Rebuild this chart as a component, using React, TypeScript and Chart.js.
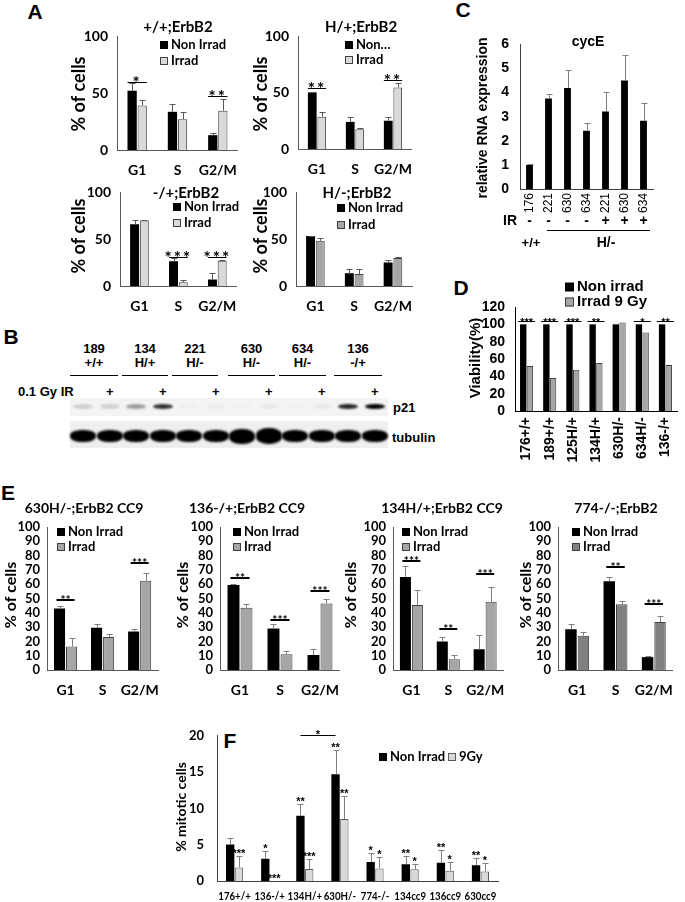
import React, { useEffect, useRef } from 'react';
import { Chart, registerables } from 'chart.js';

Chart.register(...registerables);

const LATO = 'Lato, "Liberation Sans", sans-serif';
const ARIAL = '"Liberation Sans", Arial, sans-serif';

// ---------------- data ----------------
const PHASES = ['G1', 'S', 'G2/M'];

// A
const A1_TITLE = '+/+;ErbB2';
const A1_NON = [52, 33.5, 13];
const A1_NON_ERR = [7, 7, 1.5];
const A1_IRR = [39, 27, 34.5];
const A1_IRR_ERR = [5, 6, 10.5];
const A1_SIG = ['*', '', '**'];
const A1_SIG_AT = [60, 0, 47];

const A2_TITLE = 'H/+;ErbB2';
const A2_NON = [50, 24, 25];
const A2_NON_ERR = [0.5, 4, 3];
const A2_IRR = [28.5, 17.5, 54.5];
const A2_IRR_ERR = [4.5, 1, 3.5];
const A2_SIG = ['**', '', '**'];
const A2_SIG_AT = [54, 0, 61];

const A3_TITLE = '-/+;ErbB2';
const A3_NON = [66, 26.5, 7];
const A3_NON_ERR = [4.5, 3, 7];
const A3_IRR = [70, 4, 27];
const A3_IRR_ERR = [1, 2, 1];
const A3_SIG = ['', '***', '***'];
const A3_SIG_AT = [0, 31, 31];

const A4_TITLE = 'H/-;ErbB2';
const A4_NON = [53.5, 13.7, 25];
const A4_NON_ERR = [0.4, 4.6, 2.7];
const A4_IRR = [48.3, 12.7, 30];
const A4_IRR_ERR = [3.3, 5, 0.7];

// B (western blot)
const BLOT_CLONE = ['189', '134', '221', '630', '634', '136'];
const BLOT_GENO = ['+/+', 'H/+', 'H/-', 'H/-', 'H/-', '-/+'];
const BLOT_IR = ['', '+', '', '+', '', '+', '', '+', '', '+', '', '+'];
const P21_LEVEL = [0.15, 0.14, 0.35, 0.8, 0.02, 0.03, 0.02, 0.04, 0.02, 0.04, 0.85, 1];
const TUB_LEVEL = [1, 1, 1, 1, 1, 1, 1.25, 1.35, 0.95, 0.95, 0.95, 0.95];

// C
const C_LABELS = ['176', '221', '630', '634', '221', '630', '634'];
const C_IR = ['-', '-', '-', '-', '+', '+', '+'];
const C_VAL = [1.0, 3.76, 4.19, 2.42, 3.22, 4.5, 2.83];
const C_ERR = [0.03, 0.19, 0.76, 0.3, 0.8, 1.05, 0.75];

// D
const D_LABELS = ['176+/+', '189+/+', '125H/+', '134H/+', '630H/-', '634H/-', '136-/+'];
const D_NON = [100, 100, 100, 100, 100, 100, 100];
const D_IRR = [52, 38, 47.5, 55.5, 102, 90.5, 53];
const D_SIG = ['***', '***', '***', '**', '', '*', '**'];
const D_SIG_AT = [104, 104, 104, 104, 104, 104, 104];

// E
const E1_TITLE = '630H/-;ErbB2 CC9';
const E1_NON = [43, 29.5, 27];
const E1_NON_ERR = [2, 2.5, 2];
const E1_IRR = [16.5, 23, 62.5];
const E1_IRR_ERR = [6, 2.5, 5.5];
const E1_SIG = ['**', '', '***'];
const E1_SIG_AT = [49, 0, 75];

const E2_TITLE = '136-/+;ErbB2 CC9';
const E2_NON = [59.5, 29, 10.5];
const E2_NON_ERR = [0.5, 3, 4];
const E2_IRR = [43.5, 11, 46.5];
const E2_IRR_ERR = [3, 2.5, 3.5];
const E2_SIG = ['**', '***', '***'];
const E2_SIG_AT = [64, 35, 55];

const E3_TITLE = '134H/+;ErbB2 CC9';
const E3_NON = [65, 20, 14.5];
const E3_NON_ERR = [7.5, 3, 10];
const E3_IRR = [45.5, 7.5, 47.7];
const E3_IRR_ERR = [10.5, 3, 10.5];
const E3_SIG = ['***', '**', '***'];
const E3_SIG_AT = [76, 28.5, 67];

const E4_TITLE = '774-/-;ErbB2';
const E4_NON = [28.5, 62, 9];
const E4_NON_ERR = [3.5, 3, 0.8];
const E4_IRR = [24, 46, 33.5];
const E4_IRR_ERR = [2.5, 2.5, 4];
const E4_SIG = ['', '**', '***'];
const E4_SIG_AT = [0, 72, 46];

// F
const F_LABELS = ['176+/+', '136-/+', '134H/+', '630H/-', '774-/-', '134cc9', '136cc9', '630cc9'];
const F_NON = [5.05, 3.08, 9.0, 14.7, 2.64, 2.33, 2.55, 2.2];
const F_NON_ERR = [0.95, 1.05, 1.6, 3.3, 1.2, 1.2, 1.75, 1.05];
const F_IRR = [1.9, 0, 1.67, 8.57, 1.76, 1.63, 1.45, 1.32];
const F_IRR_ERR = [1.5, 0, 1.4, 3.2, 1.6, 0.8, 1.25, 1.2];
const F_NON_STARS = ['', '*', '**', '**', '*', '**', '**', '**'];
const F_IRR_STARS = ['***', '***', '***', '**', '*', '*', '*', '*'];
const F_BRIDGE = { from: 2, to: 3, at: 20.1, text: '*' };

// ---------------- drawing helpers ----------------
function drawText(ctx, t, ox, oy) {
  ctx.save();
  ctx.font = t.font;
  ctx.fillStyle = t.color || '#000';
  ctx.textAlign = t.align || 'center';
  ctx.textBaseline = t.base || 'middle';
  ctx.translate(t.x - ox, t.y - oy);
  if (t.rot) ctx.rotate((t.rot * Math.PI) / 180);
  ctx.fillText(t.text, 0, 0);
  ctx.restore();
}

function decor(spec) {
  const [bl, bt] = spec.box;
  return {
    id: 'decor',
    afterDatasetsDraw(chart) {
      const ctx = chart.ctx;
      const ys = chart.scales.y;
      ctx.save();
      spec.datasets.forEach((d, di) => {
        if (!d.err) return;
        const meta = chart.getDatasetMeta(di);
        meta.data.forEach((el, i) => {
          const e = d.err[i];
          if (!e) return;
          const x = Math.round(el.x) + 0.5;
          const y0 = ys.getPixelForValue(d.data[i]);
          const y1 = Math.round(ys.getPixelForValue(d.data[i] + e)) + 0.5;
          ctx.strokeStyle = spec.errColor;
          ctx.lineWidth = 1;
          ctx.beginPath();
          ctx.moveTo(x, y0);
          ctx.lineTo(x, y1);
          ctx.moveTo(x - spec.capW, y1);
          ctx.lineTo(x + spec.capW, y1);
          ctx.stroke();
        });
      });
      ctx.restore();
    },
    afterDraw(chart) {
      const ctx = chart.ctx;
      const ys = chart.scales.y;
      const xs = chart.scales.x;
      (spec.texts || []).forEach((t) => drawText(ctx, t, bl, bt));
      if (spec.rotLabels) {
        const R = spec.rotLabels;
        spec.labels.forEach((lab, i) => {
          ctx.save();
          ctx.font = R.font;
          ctx.fillStyle = '#000';
          ctx.textAlign = 'right';
          ctx.textBaseline = 'middle';
          ctx.translate(xs.getPixelForValue(i) + (R.dx || 0), chart.chartArea.bottom + R.pad);
          ctx.rotate(-Math.PI / 2);
          ctx.fillText(lab, 0, 0);
          ctx.restore();
        });
      }
      if (spec.squeezeLabels) {
        const Q = spec.squeezeLabels;
        spec.labels.forEach((lab, i) => {
          ctx.save();
          ctx.font = Q.font;
          ctx.fillStyle = '#000';
          ctx.textAlign = 'center';
          ctx.textBaseline = 'middle';
          ctx.translate(xs.getPixelForValue(i), chart.chartArea.bottom + Q.dy);
          ctx.scale(Q.sx, 1);
          ctx.fillText(lab, 0, 0);
          ctx.restore();
        });
      }
      if (spec.legend) {
        const L = spec.legend;
        L.items.forEach((it) => {
          const sx = it.x - bl;
          const sy = it.y - bt - L.size / 2;
          ctx.fillStyle = it.color;
          ctx.fillRect(sx, sy, L.size, L.size);
          if (it.border) {
            ctx.strokeStyle = it.border;
            ctx.lineWidth = 1;
            ctx.strokeRect(sx + 0.5, sy + 0.5, L.size - 1, L.size - 1);
          }
          drawText(ctx, { x: it.x + L.size + 3, y: it.y, text: it.text, font: L.font, align: 'left' }, bl, bt);
        });
      }
      if (spec.sig) {
        const S = spec.sig;
        const m0 = chart.getDatasetMeta(0);
        const m1 = chart.getDatasetMeta(1);
        S.texts.forEach((txt, i) => {
          if (!txt) return;
          const e0 = m0.data[i];
          const e1 = m1.data[i];
          let x0, x1;
          if (S.mode === 'full') {
            x0 = e0.x - e0.width / 2 - S.ext;
            x1 = e1.x + e1.width / 2 + S.ext;
          } else {
            x0 = e0.x - S.ext;
            x1 = e1.x + S.ext;
          }
          const y = Math.round(ys.getPixelForValue(S.at[i])) + (S.lineW === 1 ? 0.5 : 0);
          ctx.save();
          ctx.strokeStyle = '#000';
          ctx.lineWidth = S.lineW;
          ctx.beginPath();
          ctx.moveTo(x0, y);
          ctx.lineTo(x1, y);
          ctx.stroke();
          ctx.font = S.font;
          ctx.fillStyle = '#000';
          ctx.textAlign = 'center';
          ctx.textBaseline = 'alphabetic';
          if (S.spacing) ctx.letterSpacing = S.spacing;
          ctx.fillText(txt, (x0 + x1) / 2, y + S.dy);
          ctx.restore();
        });
      }
      (spec.stars || []).forEach((st) => {
        const meta = chart.getDatasetMeta(st.ds);
        const d = spec.datasets[st.ds];
        st.texts.forEach((txt, i) => {
          if (!txt) return;
          const el = meta.data[i];
          const top = ys.getPixelForValue(d.data[i] + ((d.err && d.err[i]) || 0));
          ctx.save();
          ctx.font = st.font;
          ctx.fillStyle = '#000';
          ctx.textAlign = 'center';
          ctx.textBaseline = 'alphabetic';
          ctx.fillText(txt, el.x, top + st.dy);
          ctx.restore();
        });
      });
      if (spec.bridge) {
        const B = spec.bridge;
        const meta = chart.getDatasetMeta(0);
        const x0 = meta.data[B.from].x;
        const x1 = meta.data[B.to].x;
        const y = Math.round(ys.getPixelForValue(B.at)) + 0.5;
        ctx.save();
        ctx.strokeStyle = '#000';
        ctx.lineWidth = 1;
        ctx.beginPath();
        ctx.moveTo(x0, y);
        ctx.lineTo(x1, y);
        ctx.stroke();
        ctx.font = B.font;
        ctx.fillStyle = '#000';
        ctx.textAlign = 'center';
        ctx.textBaseline = 'alphabetic';
        ctx.fillText(B.text, (x0 + x1) / 2, y + B.dy);
        ctx.restore();
      }
      (spec.catRows || []).forEach((row) => {
        row.texts.forEach((txt, i) => {
          drawText(ctx, { x: xs.getPixelForValue(i) + bl, y: row.y, text: txt, font: row.font }, bl, bt);
        });
      });
      (spec.hlines || []).forEach((h) => {
        ctx.save();
        ctx.strokeStyle = '#000';
        ctx.lineWidth = 1;
        ctx.beginPath();
        ctx.moveTo(h.x0 - bl, h.y - bt + 0.5);
        ctx.lineTo(h.x1 - bl, h.y - bt + 0.5);
        ctx.stroke();
        ctx.restore();
      });
    },
  };
}

function build(canvas, spec) {
  const [bl, bt, bw, bh] = spec.box;
  const [pl, pt, pr, pb] = spec.plot;
  return new Chart(canvas, {
    type: 'bar',
    data: {
      labels: spec.labels,
      datasets: spec.datasets.map((d) => ({
        label: d.label,
        data: d.data,
        backgroundColor: d.color,
        borderColor: d.border || d.color,
        borderWidth: d.border ? 1 : 0,
        categoryPercentage: spec.cat,
        barPercentage: spec.bar,
      })),
    },
    options: {
      responsive: false,
      animation: false,
      events: [],
      layout: { autoPadding: false, padding: { left: 0, top: pt - bt, right: bl + bw - pr, bottom: 0 } },
      plugins: { legend: { display: false }, tooltip: { enabled: false }, title: { display: false } },
      scales: {
        x: {
          grid: { display: false, drawTicks: false },
          border: { display: true, color: spec.axis, width: 1 },
          ticks: {
            display: !spec.rotLabels && !spec.squeezeLabels,
            font: spec.xFont,
            color: '#000',
            padding: spec.xPad,
            autoSkip: false,
            maxRotation: 0,
            minRotation: 0,
          },
          afterFit: (s) => {
            s.height = bt + bh - pb;
          },
        },
        y: {
          min: 0,
          max: spec.yMax,
          grid: { display: false, drawTicks: false },
          border: { display: true, color: spec.axis, width: 1 },
          ticks: { stepSize: spec.yStep, autoSkip: false, font: spec.yFont, color: '#000', padding: spec.yPad },
          afterFit: (s) => {
            s.width = pl - bl;
          },
        },
      },
    },
    plugins: [decor(spec)],
  });
}

function ChartBox({ spec }) {
  const ref = useRef(null);
  useEffect(() => {
    const c = build(ref.current, spec);
    return () => c.destroy();
  }, []);
  const [l, t, w, h] = spec.box;
  return (
    <canvas
      ref={ref}
      width={w}
      height={h}
      style={{ position: 'absolute', left: l, top: t, width: w, height: h }}
    />
  );
}

// ---------------- specs ----------------
const fL = (s, w = 'bold') => ({ family: LATO, size: s, weight: w });
const fA = (s, w = 'bold') => ({ family: ARIAL, size: s, weight: w });

function aSpec(box, plot, title, titleXY, ytXY, legX, legY, non, nonErr, irr, irrErr, irrColor, nonLabel, sig, sigAt) {
  return {
    box,
    plot,
    labels: PHASES,
    datasets: [
      { label: 'Non Irrad', data: non, err: nonErr, color: '#000' },
      { label: 'Irrad', data: irr, err: irrErr, color: irrColor, border: '#404040' },
    ],
    yMax: 100,
    yStep: 50,
    yFont: fL(14),
    yPad: 9,
    xFont: fL(14),
    xPad: 12,
    cat: 0.5,
    bar: 0.92,
    axis: '#595959',
    errColor: '#595959',
    capW: 3,
    texts: [
      { x: titleXY[0], y: titleXY[1], text: title, font: `bold 15px ${LATO}` },
      { x: ytXY[0], y: ytXY[1], text: '% of cells', font: `bold 18px ${LATO}`, rot: -90 },
    ],
    legend: {
      font: `bold 13px ${LATO}`,
      size: 8,
      items: [
        { x: legX, y: legY[0], color: '#000', text: nonLabel },
        { x: legX, y: legY[1], color: irrColor, border: '#404040', text: 'Irrad' },
      ],
    },
    sig: sig
      ? { texts: sig, at: sigAt, font: `bold 17px ${LATO}`, mode: 'full', ext: 0, lineW: 1, dy: 6, spacing: '2px' }
      : null,
  };
}

const A1 = aSpec([60, 12, 190, 172], [117, 36, 243, 150], A1_TITLE, [178, 27], [79, 94], 160, [45, 61],
  A1_NON, A1_NON_ERR, A1_IRR, A1_IRR_ERR, '#d9d9d9', 'Non Irrad', A1_SIG, A1_SIG_AT);
const A2 = aSpec([245, 12, 180, 172], [298, 36, 419, 149], A2_TITLE, [361, 27], [261, 94], 345, [45, 60],
  A2_NON, A2_NON_ERR, A2_IRR, A2_IRR_ERR, '#d9d9d9', 'Non…', A2_SIG, A2_SIG_AT);
const A3 = aSpec([60, 175, 190, 145], [120, 185, 240, 286], A3_TITLE, [186, 193], [79, 236], 173, [207, 223],
  A3_NON, A3_NON_ERR, A3_IRR, A3_IRR_ERR, '#d9d9d9', 'Non Irrad', A3_SIG, A3_SIG_AT);
const A4 = aSpec([245, 175, 180, 145], [296, 185, 419, 286], A4_TITLE, [357, 193], [261, 236], 337, [208, 225],
  A4_NON, A4_NON_ERR, A4_IRR, A4_IRR_ERR, '#a6a6a6', 'Non Irrad', null, null);

const C = {
  box: [465, 25, 200, 230],
  plot: [520, 35, 653, 189],
  labels: C_LABELS,
  datasets: [{ label: 'cycE', data: C_VAL, err: C_ERR, color: '#000' }],
  yMax: 6,
  yStep: 1,
  yFont: fA(14),
  yPad: 11,
  xFont: fA(12, 'normal'),
  xPad: 4,
  rotLabels: { font: `12px ${ARIAL}`, pad: 4, dx: 0 },
  cat: 0.36,
  bar: 1,
  axis: '#404040',
  errColor: '#7f7f7f',
  capW: 3,
  texts: [
    { x: 588, y: 42, text: 'cycE', font: `bold 14px ${ARIAL}` },
    { x: 483, y: 118, text: 'relative RNA expression', font: `bold 14px ${ARIAL}`, rot: -90 },
    { x: 510, y: 221, text: 'IR', font: `bold 14px ${ARIAL}` },
    { x: 531, y: 243, text: '+/+', font: `bold 13px ${ARIAL}` },
    { x: 606, y: 243, text: 'H/-', font: `bold 14px ${ARIAL}` },
  ],
  catRows: [{ y: 221, texts: C_IR, font: `bold 14px ${ARIAL}` }],
  hlines: [{ x0: 547, x1: 650, y: 230 }],
};

const D = {
  box: [440, 275, 245, 195],
  plot: [515, 307, 677, 411],
  labels: D_LABELS,
  datasets: [
    { label: 'Non irrad', data: D_NON, color: '#000' },
    { label: 'Irrad 9 Gy', data: D_IRR, color: '#a6a6a6', border: '#404040' },
  ],
  yMax: 120,
  yStep: 20,
  yFont: fA(14),
  yPad: 10,
  xFont: fA(14),
  xPad: 6,
  rotLabels: { font: `bold 14px ${ARIAL}`, pad: 6, dx: 0 },
  cat: 0.58,
  bar: 0.95,
  axis: '#000',
  errColor: '#000',
  capW: 2,
  texts: [{ x: 476, y: 358, text: 'Viability(%)', font: `bold 15px ${ARIAL}`, rot: -90 }],
  legend: {
    font: `bold 15px ${ARIAL}`,
    size: 9,
    items: [
      { x: 565, y: 287, color: '#000', text: 'Non irrad' },
      { x: 565, y: 302, color: '#a6a6a6', border: '#404040', text: 'Irrad 9 Gy' },
    ],
  },
  sig: { texts: D_SIG, at: D_SIG_AT, font: `bold 11px ${ARIAL}`, mode: 'full', ext: 2, lineW: 1, dy: 4 },
};

function eSpec(box, plot, title, titleX, ytX, legX, non, nonErr, irr, irrErr, irrColor, sig, sigAt) {
  return {
    box,
    plot,
    labels: PHASES,
    datasets: [
      { label: 'Non Irrad', data: non, err: nonErr, color: '#000' },
      { label: 'Irrad', data: irr, err: irrErr, color: irrColor, border: '#404040' },
    ],
    yMax: 100,
    yStep: 10,
    yFont: fL(13),
    yPad: 7,
    xFont: fL(14),
    xPad: 12,
    cat: 0.65,
    bar: 0.92,
    axis: '#595959',
    errColor: '#7f7f7f',
    capW: 3,
    texts: [
      { x: titleX, y: 508, text: title, font: `bold 14px ${LATO}` },
      { x: ytX, y: 595, text: '% of cells', font: `bold 16px ${LATO}`, rot: -90 },
    ],
    legend: {
      font: `bold 13px ${LATO}`,
      size: 8,
      items: [
        { x: legX, y: 532, color: '#000', text: 'Non Irrad' },
        { x: legX, y: 547, color: irrColor, border: '#404040', text: 'Irrad' },
      ],
    },
    sig: { texts: sig, at: sigAt, font: `bold 12px ${LATO}`, mode: 'centers', ext: 3, lineW: 2, dy: 4 },
  };
}

const E1 = eSpec([0, 495, 172, 210], [47, 527, 164, 670], E1_TITLE, 84, 11, 57,
  E1_NON, E1_NON_ERR, E1_IRR, E1_IRR_ERR, '#a6a6a6', E1_SIG, E1_SIG_AT);
const E2 = eSpec([172, 495, 180, 210], [220, 527, 346, 670], E2_TITLE, 247, 183, 233,
  E2_NON, E2_NON_ERR, E2_IRR, E2_IRR_ERR, '#a6a6a6', E2_SIG, E2_SIG_AT);
const E3 = eSpec([345, 495, 172, 210], [393, 527, 512, 670], E3_TITLE, 442, 351, 402,
  E3_NON, E3_NON_ERR, E3_IRR, E3_IRR_ERR, '#a6a6a6', E3_SIG, E3_SIG_AT);
const E4 = eSpec([512, 495, 173, 210], [558, 527, 684, 670], E4_TITLE, 616, 526, 572,
  E4_NON, E4_NON_ERR, E4_IRR, E4_IRR_ERR, '#808080', E4_SIG, E4_SIG_AT);

const F = {
  box: [165, 715, 340, 187],
  plot: [217, 732, 498, 883],
  labels: F_LABELS,
  datasets: [
    { label: 'Non Irrad', data: F_NON, err: F_NON_ERR, color: '#000' },
    { label: '9Gy', data: F_IRR, err: F_IRR_ERR, color: '#d9d9d9', border: '#595959' },
  ],
  yMax: 20,
  yStep: 5,
  yFont: fL(13),
  yPad: 13,
  xFont: fL(11),
  xPad: 9,
  squeezeLabels: { font: `bold 11px ${LATO}`, dy: 15, sx: 0.88 },
  cat: 0.5,
  bar: 0.95,
  axis: '#404040',
  errColor: '#7f7f7f',
  capW: 3,
  texts: [{ x: 181, y: 807, text: '% mitotic cells', font: `bold 14px ${LATO}`, rot: -90 }],
  legend: {
    font: `bold 13px ${LATO}`,
    size: 8,
    items: [
      { x: 379, y: 757, color: '#000', text: 'Non Irrad' },
      { x: 448, y: 757, color: '#d9d9d9', border: '#595959', text: '9Gy' },
    ],
  },
  stars: [
    { ds: 0, texts: F_NON_STARS, font: `bold 11px ${ARIAL}`, dy: 1 },
    { ds: 1, texts: F_IRR_STARS, font: `bold 11px ${ARIAL}`, dy: 1 },
  ],
  bridge: { ...F_BRIDGE, font: `bold 11px ${ARIAL}`, dy: 2 },
};

// ---------------- HTML pieces ----------------
function Txt({ x, y, children, font, align = 'center' }) {
  const tx = align === 'center' ? '-50%' : align === 'right' ? '-100%' : '0';
  return (
    <div
      style={{
        position: 'absolute',
        left: x,
        top: y,
        transform: `translate(${tx}, -50%)`,
        font,
        whiteSpace: 'nowrap',
        lineHeight: 1,
        color: '#000',
      }}
    >
      {children}
    </div>
  );
}

const LANE_X0 = 70;
const LANE_W = 26.5;
const GROUP_SPANS = [
  [70, 118],
  [122, 168],
  [172, 218],
  [228, 275],
  [279, 326],
  [334, 382],
];

function Blot() {
  const bf = `bold 13px ${ARIAL}`;
  return (
    <>
      {BLOT_CLONE.map((c, i) => {
        const cx = (GROUP_SPANS[i][0] + GROUP_SPANS[i][1]) / 2;
        return (
          <React.Fragment key={'g' + i}>
            <Txt x={cx} y={348} font={bf}>{c}</Txt>
            <Txt x={cx} y={362} font={bf}>{BLOT_GENO[i]}</Txt>
            <div
              style={{
                position: 'absolute',
                left: GROUP_SPANS[i][0],
                top: 375,
                width: GROUP_SPANS[i][1] - GROUP_SPANS[i][0],
                height: 1,
                background: '#000',
              }}
            />
          </React.Fragment>
        );
      })}
      <Txt x={18} y={391} font={bf} align="left">0.1 Gy IR</Txt>
      {BLOT_IR.map((s, i) =>
        s ? (
          <Txt key={'ir' + i} x={LANE_X0 + LANE_W * (i + 0.5)} y={391} font={bf}>
            {s}
          </Txt>
        ) : null
      )}
      <div style={{ position: 'absolute', left: 70, top: 398, width: 318, height: 18, background: '#f4f4f4' }} />
      {P21_LEVEL.map((v, i) => (
        <div
          key={'p' + i}
          style={{
            position: 'absolute',
            left: LANE_X0 + LANE_W * (i + 0.5) - 10,
            top: 404,
            width: 20,
            height: 5,
            borderRadius: '50%',
            background: '#000',
            opacity: v,
            filter: 'blur(0.8px)',
          }}
        />
      ))}
      <Txt x={393} y={407} font={bf} align="left">p21</Txt>
      <div style={{ position: 'absolute', left: 70, top: 421, width: 318, height: 27, background: '#efefef' }} />
      {TUB_LEVEL.map((v, i) => {
        const h = 12 * v;
        return (
          <div
            key={'t' + i}
            style={{
              position: 'absolute',
              left: LANE_X0 + LANE_W * (i + 0.5) - 13,
              top: 436 - h / 2,
              width: 26,
              height: h,
              borderRadius: '45%',
              background: '#000',
              filter: 'blur(1px)',
            }}
          />
        );
      })}
      <Txt x={392} y={437} font={bf} align="left">tubulin</Txt>
    </>
  );
}

export default function App() {
  const big = `bold 21px ${ARIAL}`;
  return (
    <div
      style={{
        position: 'absolute',
        left: 0,
        top: 0,
        width: 685,
        height: 902,
        background: '#fff',
        overflow: 'hidden',
      }}
    >
      <Txt x={35} y={11} font={big}>A</Txt>
      <Txt x={11} y={336} font={big}>B</Txt>
      <Txt x={463} y={9} font={big}>C</Txt>
      <Txt x={461} y={287} font={big}>D</Txt>
      <Txt x={8} y={492} font={big}>E</Txt>
      <Txt x={230} y={740} font={big}>F</Txt>
      <Blot />
      <ChartBox spec={A1} />
      <ChartBox spec={A2} />
      <ChartBox spec={A3} />
      <ChartBox spec={A4} />
      <ChartBox spec={C} />
      <ChartBox spec={D} />
      <ChartBox spec={E1} />
      <ChartBox spec={E2} />
      <ChartBox spec={E3} />
      <ChartBox spec={E4} />
      <ChartBox spec={F} />
    </div>
  );
}
